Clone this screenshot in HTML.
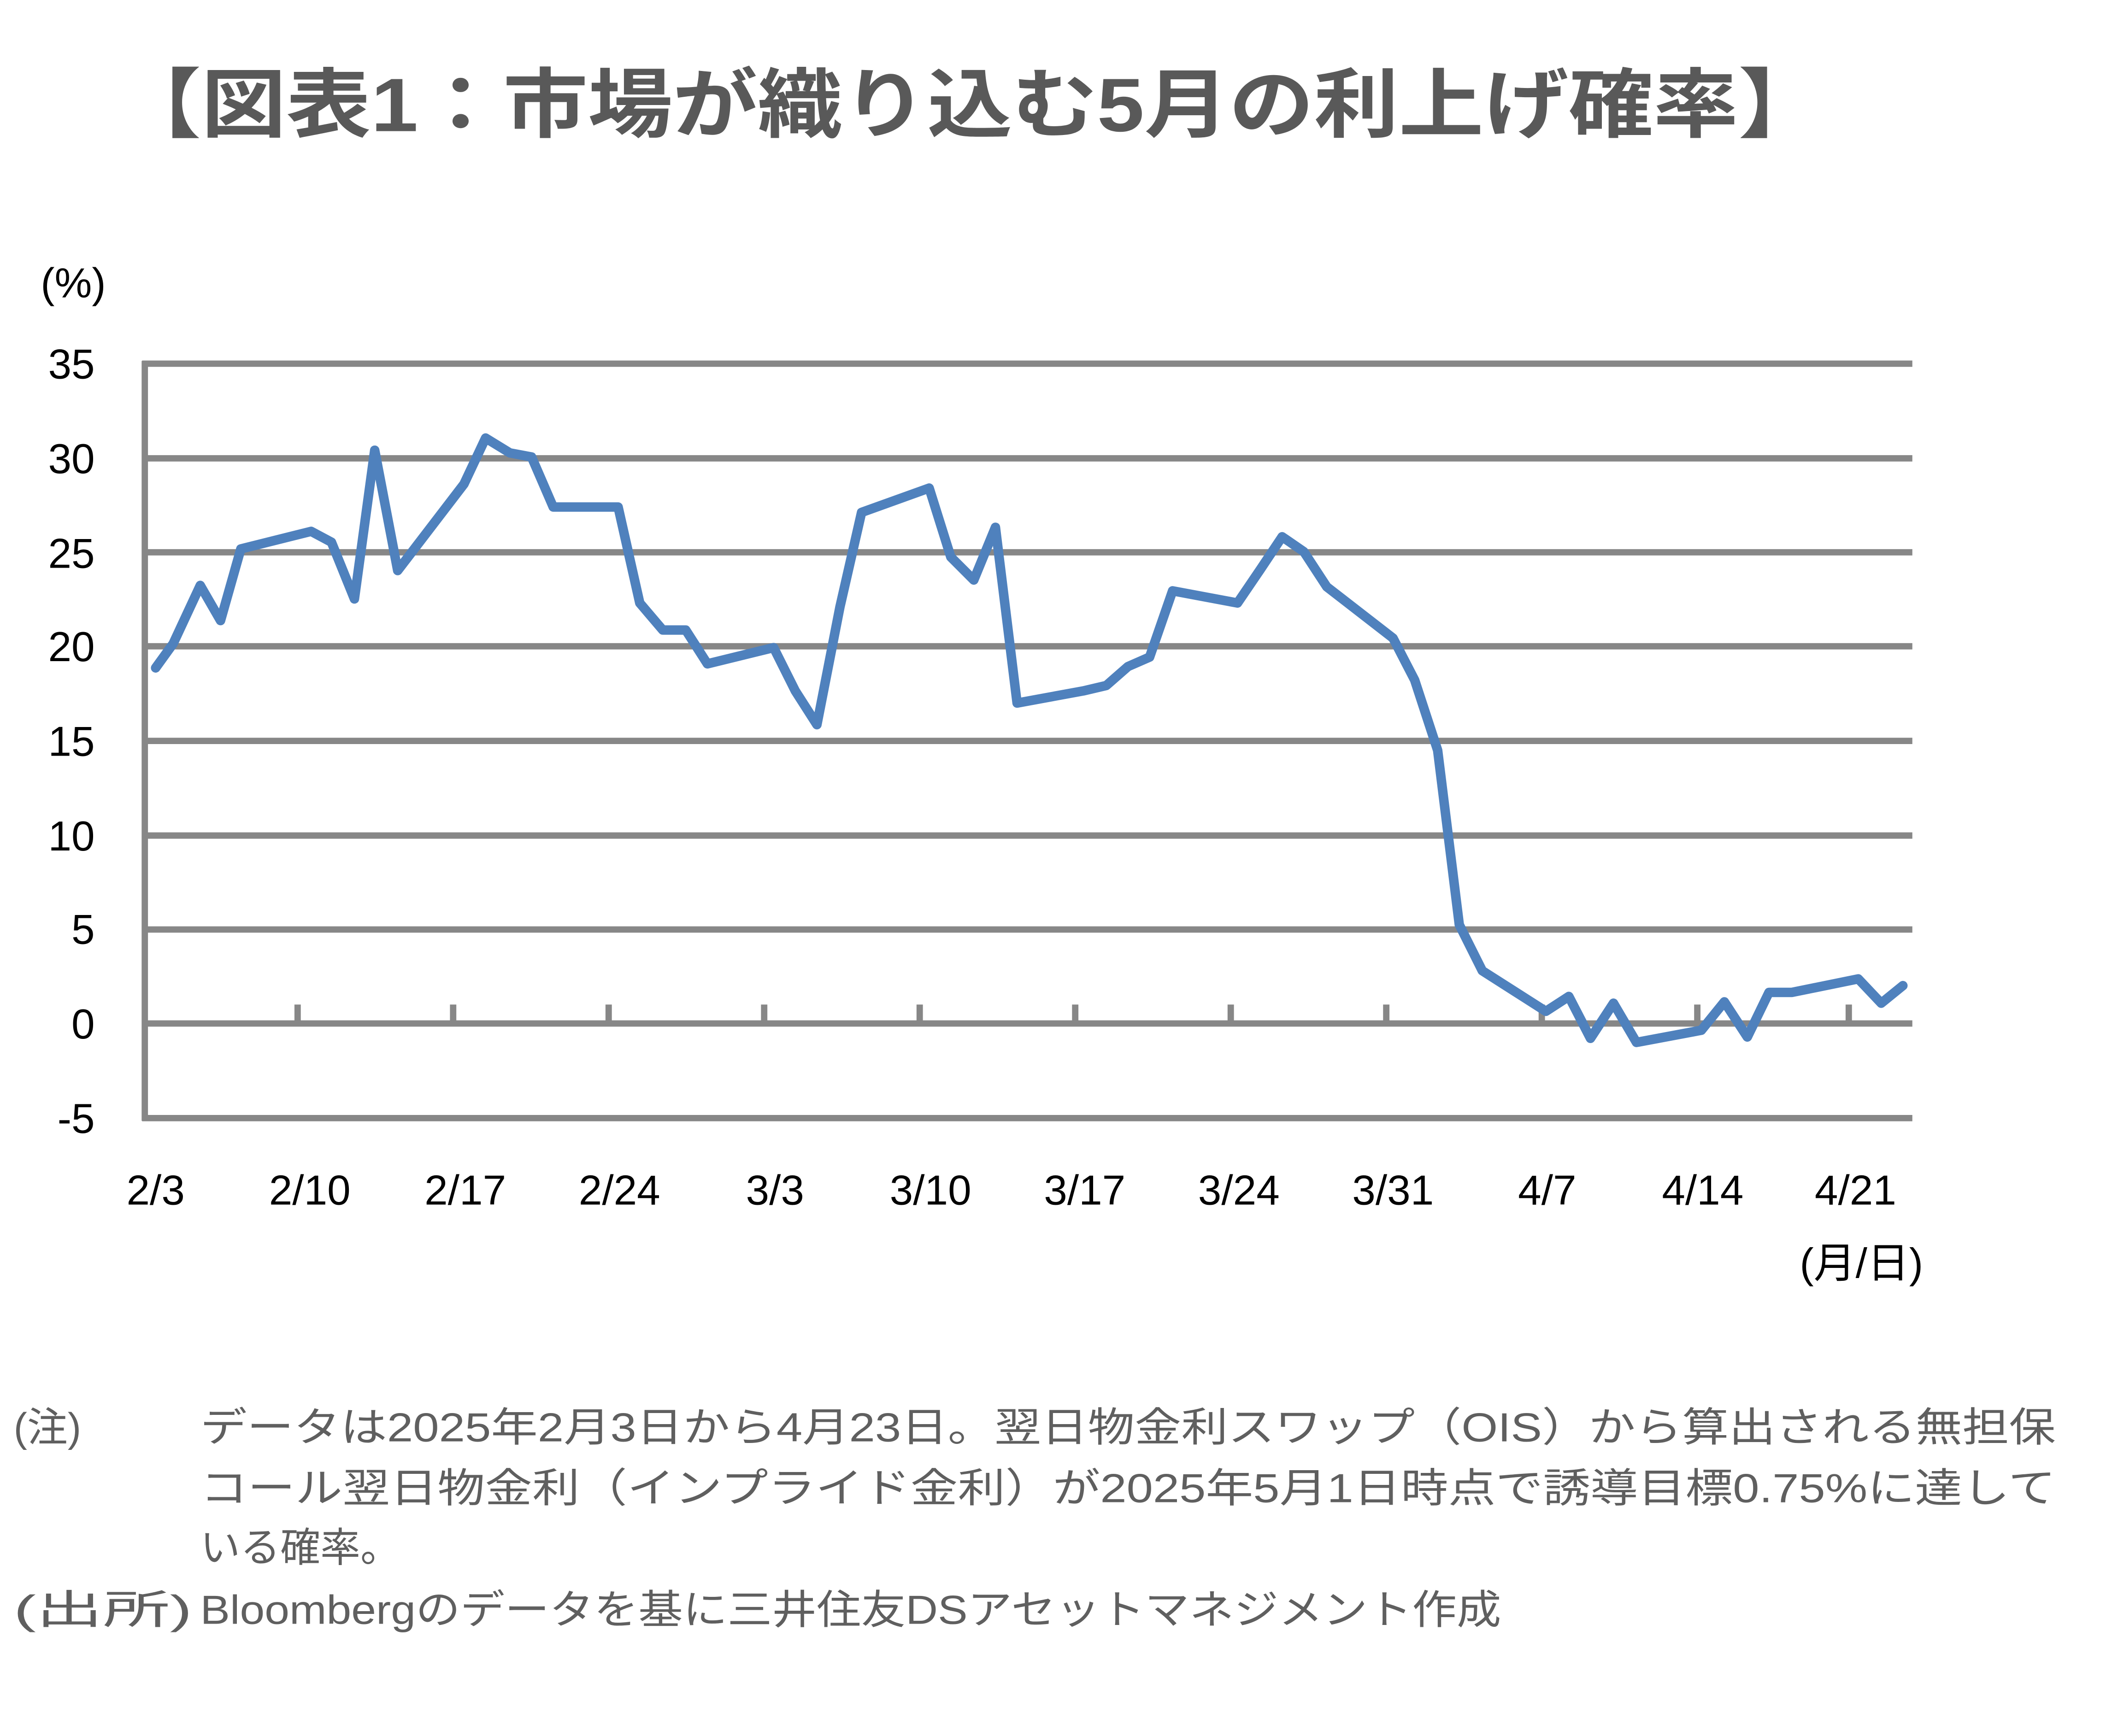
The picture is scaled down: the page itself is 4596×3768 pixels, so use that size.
<!DOCTYPE html>
<html><head><meta charset="utf-8"><style>html,body{margin:0;padding:0;background:#fff;}svg{display:block}</style></head>
<body>
<svg xmlns="http://www.w3.org/2000/svg" width="4596" height="3768" viewBox="0 0 1566 1284">
<rect width="1566" height="1284" fill="#fff"/>
<text x="86" y="97" font-family="Liberation Sans, Noto Sans CJK JP, sans-serif" font-weight="bold" font-size="56" fill="#595959" textLength="1262" lengthAdjust="spacingAndGlyphs">【図表1：市場が織り込む5月の利上げ確率】</text>
<g stroke="#878787" stroke-width="4.7" fill="none">
<line x1="105" y1="269" x2="1414" y2="269"/>
<line x1="105" y1="339" x2="1414" y2="339"/>
<line x1="105" y1="408.5" x2="1414" y2="408.5"/>
<line x1="105" y1="478" x2="1414" y2="478"/>
<line x1="105" y1="548" x2="1414" y2="548"/>
<line x1="105" y1="618" x2="1414" y2="618"/>
<line x1="105" y1="687.5" x2="1414" y2="687.5"/>
<line x1="105" y1="757" x2="1414" y2="757"/>
<line x1="105" y1="827" x2="1414" y2="827"/>
<line x1="107" y1="267" x2="107" y2="829"/>
<line x1="220" y1="743" x2="220" y2="757"/>
<line x1="335" y1="743" x2="335" y2="757"/>
<line x1="450" y1="743" x2="450" y2="757"/>
<line x1="565" y1="743" x2="565" y2="757"/>
<line x1="680" y1="743" x2="680" y2="757"/>
<line x1="795" y1="743" x2="795" y2="757"/>
<line x1="910" y1="743" x2="910" y2="757"/>
<line x1="1025" y1="743" x2="1025" y2="757"/>
<line x1="1140" y1="743" x2="1140" y2="757"/>
<line x1="1255" y1="743" x2="1255" y2="757"/>
<line x1="1367" y1="743" x2="1367" y2="757"/>
</g>
<g font-family="Liberation Sans, sans-serif" font-size="31" fill="#000" text-anchor="end">
<text x="70" y="280">35</text><text x="70" y="350">30</text><text x="70" y="420">25</text><text x="70" y="489">20</text>
<text x="70" y="559">15</text><text x="70" y="629">10</text><text x="70" y="698">5</text><text x="70" y="768">0</text><text x="70" y="838">-5</text>
</g>
<g font-family="Liberation Sans, sans-serif" font-size="31" fill="#000" text-anchor="middle">
<text x="115" y="891">2/3</text><text x="229" y="891">2/10</text><text x="344" y="891">2/17</text><text x="458" y="891">2/24</text>
<text x="573" y="891">3/3</text><text x="688" y="891">3/10</text><text x="802" y="891">3/17</text><text x="916" y="891">3/24</text>
<text x="1030" y="891">3/31</text><text x="1144" y="891">4/7</text><text x="1259" y="891">4/14</text><text x="1372" y="891">4/21</text>
</g>
<text x="30" y="220" font-family="Liberation Sans, Noto Sans CJK JP, sans-serif" font-size="31" fill="#000">(%)</text>
<text x="1422" y="945" text-anchor="end" font-family="Liberation Sans, Noto Sans CJK JP, sans-serif" font-size="31" fill="#000">(月/日)</text>
<polyline fill="none" stroke="#4f81bd" stroke-width="7" stroke-linejoin="round" stroke-linecap="round" points="115,494 128,476 148,433 163,459 178,406 230,393 245,401 262,443 277,333 294,422 343,358 359,324 377,335 393,338 409,375 457,375 473,446 490,466 507,466 523,491 572,479 588,511 604,536 621,449 637,379 687,361 703,412 720,429 736,390 752,520 801,511 818,507 834,493 850,486 867,437 915,446 932,421 948,397 964,408 981,434 1030,472 1046,503 1063,555 1079,684 1096,718 1143,748 1160,737 1176,768 1193,742 1210,771 1258,762 1275,741 1292,767 1308,734 1325,734 1374,724 1391,742 1407,729"/>
<g font-family="Liberation Sans, Noto Sans CJK JP, sans-serif" font-size="30" fill="#5f5f5f">
<text x="10" y="1066">(注)</text>
<text x="148" y="1066" textLength="1372" lengthAdjust="spacingAndGlyphs">データは2025年2月3日から4月23日。翌日物金利スワップ（OIS）から算出される無担保</text>
<text x="148" y="1111" textLength="1372" lengthAdjust="spacingAndGlyphs">コール翌日物金利（インプライド金利）が2025年5月1日時点で誘導目標0.75%に達して</text>
<text x="148" y="1155" textLength="148" lengthAdjust="spacingAndGlyphs">いる確率。</text>
<text x="10" y="1201" textLength="132" lengthAdjust="spacingAndGlyphs">(出所)</text>
<text x="148" y="1201" textLength="962" lengthAdjust="spacingAndGlyphs">Bloombergのデータを基に三井住友DSアセットマネジメント作成</text>
</g>
</svg>
</body></html>
